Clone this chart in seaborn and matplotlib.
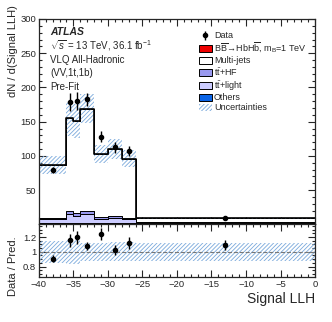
import numpy as np
import pandas as pd
import matplotlib
matplotlib.use('Agg')
import matplotlib.pyplot as plt
import seaborn as sns
from matplotlib.patches import Patch
from matplotlib.ticker import MultipleLocator, FuncFormatter

# bins of Signal LLH
edges = [-40, -36, -35, -34, -32, -30, -28, -26, 0]

# background components (dN / d(Signal LLH)), bottom -> top
others = [1.5, 2.0, 2.0, 2.0, 1.5, 1.5, 1.5, 0.5]
tt_light = [6.0, 13.0, 10.0, 13.0, 7.0, 8.0, 6.0, 1.5]
tt_hf = [2.5, 4.0, 4.0, 4.0, 2.5, 3.0, 2.5, 1.0]
multijet = [77.0, 136.0, 135.0, 150.0, 92.0, 97.5, 86.0, 6.0]

# data
data_x = [-38, -35.5, -34.5, -33, -31, -29, -27, -13]
data_y = [79.0, 179.0, 180.5, 182.5, 128.0, 112.5, 107.5, 9.8]
data_err = [4.5, 13.0, 13.0, 9.5, 8.0, 7.5, 7.3, 0.6]

# relative uncertainty of prediction
rel_unc = [0.15, 0.165, 0.165, 0.125, 0.125, 0.13, 0.13, 0.12]

COLORS = {
    'Multi-jets': 'white',
    'tt+HF': '#9999ef',
    'tt+light': '#ccccff',
    'Others': '#0a64e6',
}
HATCH_COL = '#7aa9dc'

sns.set_style('ticks')
plt.rcParams['font.family'] = ['Liberation Sans', 'DejaVu Sans']
plt.rcParams['mathtext.fontset'] = 'custom'
plt.rcParams['mathtext.rm'] = 'Liberation Sans'
plt.rcParams['mathtext.it'] = 'Liberation Sans:italic'
plt.rcParams['mathtext.bf'] = 'Liberation Sans:bold'
plt.rcParams['hatch.linewidth'] = 0.6

centers = [(a + b) / 2 for a, b in zip(edges[:-1], edges[1:])]
rows = []
for name, vals in [('Multi-jets', multijet), ('tt+HF', tt_hf),
                   ('tt+light', tt_light), ('Others', others)]:
    for c, v in zip(centers, vals):
        rows.append({'x': c, 'w': v, 'comp': name})
df = pd.DataFrame(rows)

total = np.array(others) + np.array(tt_light) + np.array(tt_hf) + np.array(multijet)

fig = plt.figure(figsize=(3.32, 3.22), dpi=100)
ax = fig.add_axes([0.117, 0.303, 0.832, 0.638])
rax = fig.add_axes([0.117, 0.140, 0.832, 0.163], sharex=ax)

# stacked backgrounds
sns.histplot(data=df, x='x', weights='w', hue='comp',
             hue_order=['Multi-jets', 'tt+HF', 'tt+light', 'Others'],
             multiple='stack', bins=edges, element='step', fill=True,
             palette=COLORS, alpha=1, edgecolor='black', linewidth=0.7,
             legend=False, ax=ax)

step_x = edges
step_tot = list(total) + [total[-1]]
ax.step(step_x, step_tot, where='post', color='black', lw=1.2)

up = list(total * (1 + np.array(rel_unc)))
dn = list(total * (1 - np.array(rel_unc)))
ax.fill_between(step_x, dn + [dn[-1]], up + [up[-1]], step='post',
                facecolor='none', edgecolor=HATCH_COL, hatch='////////', linewidth=0)

eb = ax.errorbar(data_x, data_y, yerr=data_err, fmt='o', color='black',
                 ms=3, lw=1, capsize=0)

ax.set_xlim(-40, 0)
ax.set_ylim(0, 300)
ax.set_yticks([50, 100, 150, 200, 250, 300])
ax.yaxis.set_minor_locator(MultipleLocator(10))
ax.xaxis.set_minor_locator(MultipleLocator(1))
ax.xaxis.set_major_locator(MultipleLocator(5))
ax.tick_params(axis='x', labelbottom=False)
ax.set_xlabel('')
ax.set_ylabel('dN / d(Signal LLH)', fontsize=8, loc='top')
ax.yaxis.set_label_coords(-0.076, 1.068)

for a in (ax, rax):
    a.tick_params(which='both', direction='in', top=True, right=True,
                  labelsize=6.8, width=0.8, pad=2)
    a.tick_params(which='major', length=5)
    a.tick_params(which='minor', length=2.5)
    for s in a.spines.values():
        s.set_linewidth(0.9)

# text block
tx = 0.04
ax.text(tx, 0.937, 'ATLAS', transform=ax.transAxes, fontsize=7.5,
        fontweight='bold', fontstyle='italic', va='center')
ax.text(tx, 0.869, r'$\sqrt{s}$ = 13 TeV, 36.1 fb$^{-1}$', transform=ax.transAxes,
        fontsize=7, va='center')
ax.text(tx, 0.802, 'VLQ All-Hadronic', transform=ax.transAxes, fontsize=7, va='center')
ax.text(tx, 0.737, '(VV,1t,1b)', transform=ax.transAxes, fontsize=7, va='center')
ax.text(tx, 0.670, 'Pre-Fit', transform=ax.transAxes, fontsize=7, va='center')

handles = [
    eb,
    Patch(facecolor='#ee0000', edgecolor='black', lw=0.7),
    Patch(facecolor='white', edgecolor='black', lw=0.7),
    Patch(facecolor=COLORS['tt+HF'], edgecolor='black', lw=0.7),
    Patch(facecolor=COLORS['tt+light'], edgecolor='black', lw=0.7),
    Patch(facecolor=COLORS['Others'], edgecolor='black', lw=0.7),
    Patch(facecolor='none', edgecolor=HATCH_COL, hatch='////////', lw=0),
]
labels = [
    'Data',
    r'$\mathrm{B\overline{B}\!\rightarrow\!Hb H\overline{b}}$, m$_\mathrm{B}$=1 TeV',
    'Multi-jets',
    r't$\mathrm{\bar{t}}$+HF',
    r't$\mathrm{\bar{t}}$+light',
    'Others',
    'Uncertainties',
]
ax.legend(handles, labels, loc='upper left', bbox_to_anchor=(0.578, 0.94),
          frameon=False, fontsize=6.5, handlelength=1.45, handleheight=0.8,
          labelspacing=0.1, handletextpad=0.25, borderpad=0, borderaxespad=0)

# ratio panel
ratio = np.array(data_y) / total
ratio_err = np.array(data_err) / total
rup = list(1 + np.array(rel_unc))
rdn = list(1 - np.array(rel_unc))
rax.fill_between(step_x, rdn + [rdn[-1]], rup + [rup[-1]], step='post',
                 facecolor='none', edgecolor=HATCH_COL, hatch='////////', linewidth=0)
rax.axhline(1, color='#777777', ls='--', lw=0.8)
rax.errorbar(data_x, ratio, yerr=ratio_err, fmt='o', color='black',
             ms=3, lw=1, capsize=0)
rax.set_ylim(0.66, 1.37)
rax.set_yticks([0.8, 1.0, 1.2])
rax.yaxis.set_major_formatter(FuncFormatter(lambda v, p: f'{v:g}'))
rax.yaxis.set_minor_locator(MultipleLocator(0.05))
rax.set_xlim(-40, 0)
rax.set_ylabel('Data / Pred.', fontsize=8)
rax.yaxis.set_label_coords(-0.076, 0.21)
rax.set_xlabel('Signal LLH', fontsize=10, loc='right')
rax.xaxis.set_label_coords(1.0, -0.29)

fig.savefig('out.png', dpi=100)
